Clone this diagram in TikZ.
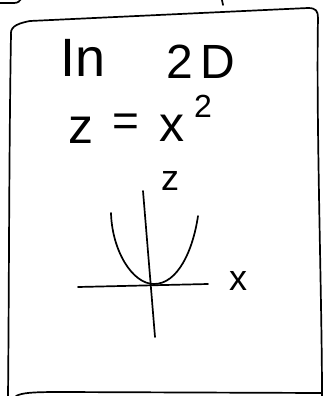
\documentclass[tikz,border=0pt]{standalone}
\usepackage{fontspec}
\setmainfont{Liberation Sans}
\begin{document}
\begin{tikzpicture}[x=1pt,y=-1pt,
  ink/.style={line width=1.7pt,line cap=round,line join=round,black},
  hand/.style={inner sep=0pt,anchor=center,font=\fontsize{46}{46}\selectfont},
  small/.style={inner sep=0pt,anchor=center,font=\fontsize{32}{32}\selectfont}]
\useasboundingbox (0,0) rectangle (323,396);
% frame
\draw[ink] (11,36) .. controls (10,28) and (14,24) .. (30,21)
  -- (308,8) .. controls (316,8) and (318,11) .. (318,18)
  .. controls (316,120) and (322,300) .. (322,396);
\draw[ink] (11,34) .. controls (9,150) and (9,300) .. (8,396);
\draw[ink] (16,396) .. controls (22,393) and (30,392) .. (60,392) -- (323,393);
% fragments of a neighbouring box
\draw[ink] (0,3) -- (14,3) .. controls (18,3) and (20,1) .. (21,-1);
\draw[ink] (222,0) -- (223,5);
% texts
\node[hand,font=\fontsize{54}{54}\selectfont] (tin) at (83,58) {In};
\node[hand,font=\fontsize{48}{48}\selectfont] (t2d) at (201,62) {2\hspace{8pt}D};
\node[hand,font=\fontsize{50}{50}\selectfont] (ez) at (81,130) {z};
\node[hand] (eq) at (126,125) {=};
\node[hand,font=\fontsize{50}{50}\selectfont] (ex) at (172,128) {x};
\node[small] (esup) at (203,106) {2};
% axes
\coordinate (zt) at (143,191);
\coordinate (zb) at (155,337);
\coordinate (xl) at (78,287);
\coordinate (xr) at (208,284);
\draw[ink] (zt) -- (zb);
\draw[ink] (xl) -- (xr);
\node[small,font=\fontsize{36}{36}\selectfont] (zl) at (170,181) {z};
\node[small,font=\fontsize{36}{36}\selectfont] (xlab) at (238,281) {x};
% parabola
\coordinate (pl) at (111,213);
\coordinate (pm) at (154,284);
\coordinate (pr) at (198,216);
\draw[ink] (pl) .. controls (112,250) and (132,284) .. (pm)
  .. controls (178,284) and (193,250) .. (pr);
\end{tikzpicture}
\end{document}
